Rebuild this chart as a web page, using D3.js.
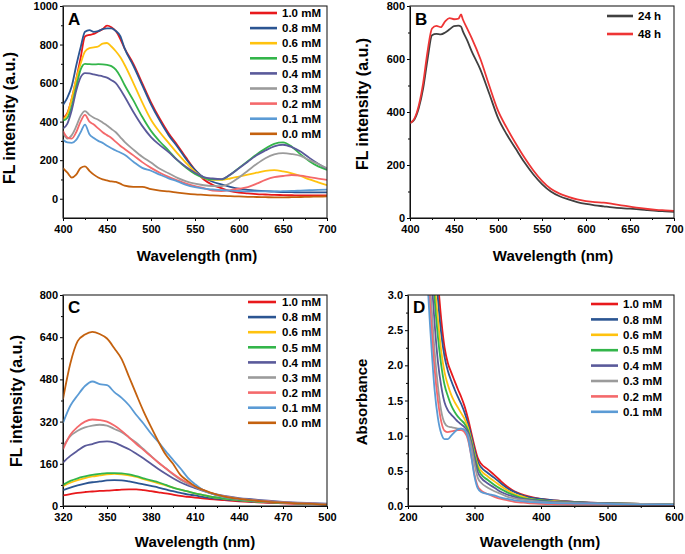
<!DOCTYPE html>
<html><head><meta charset="utf-8">
<script src="https://cdn.jsdelivr.net/npm/d3@7"></script>
<style>
body{margin:0;background:#fff}
svg{display:block}
text{font-family:"Liberation Sans",Arial,Helvetica,sans-serif;font-weight:bold;fill:#000}
</style>
</head><body>
<svg id="c" width="685" height="554"></svg>
<script>
// ---------- DATA ----------
const CONC_LABELS = ["1.0 mM","0.8 mM","0.6 mM","0.5 mM","0.4 mM","0.3 mM","0.2 mM","0.1 mM","0.0 mM"];
const TIME_LABELS = ["24 h","48 h"];

// Panel A: FL spectra (400-700 nm)
const A_WL = [400,405,410,415,420,425,430,435,440,445,450,455,460,465,470,480,490,500,510,520,530,540,550,560,570,580,590,600,610,620,630,640,650,660,670,680,690,700];
const A_10 = [418,445,520,620,730,842,850,855,868,880,898,890,870,830,780,700,600,500,415,340,278,212,150,100,72,55,40,32,28,24,22,20,19,18,17,17,17,17];
const A_08 = [487,525,585,690,785,866,875,866,870,880,884,884,870,845,780,690,590,490,405,330,270,205,150,110,88,74,62,52,46,42,39,37,35,34,33,33,33,33];
const A_06 = [410,440,520,620,700,764,781,785,790,805,808,790,765,735,695,600,500,410,345,290,235,185,140,108,98,98,105,115,125,135,145,148,142,132,118,100,85,70];
const A_05 = [405,420,480,580,670,700,698,697,698,697,694,688,670,635,590,510,425,352,297,250,200,160,128,108,100,100,125,160,195,230,260,285,292,270,230,195,168,150];
const A_04 = [365,390,460,560,630,652,650,645,640,635,628,615,600,568,530,450,378,320,278,242,200,165,135,112,105,102,125,158,192,225,250,272,280,268,245,212,182,155];
const A_03 = [340,312,330,375,430,455,435,420,410,395,380,362,345,320,295,255,218,188,155,132,108,90,78,70,66,65,80,110,145,180,210,230,237,232,222,200,180,158];
const A_02 = [352,318,312,345,400,435,400,385,365,345,330,315,295,275,258,225,190,160,135,113,95,78,65,55,42,40,45,52,60,78,98,112,118,123,120,112,104,98];
const A_01 = [306,292,290,305,345,385,335,315,300,290,275,262,250,240,228,192,160,145,125,106,90,72,60,52,48,45,42,40,38,38,38,38,39,40,42,44,46,47];
const A_00 = [159,135,110,125,160,168,145,125,110,100,95,90,87,78,68,62,62,50,42,38,32,27,23,20,17,15,13,12,10,9,8,7,7,8,9,10,11,12];

// Panel B: FL spectra 24 h / 48 h
const B_WL = [400,405,410,415,420,425,430,435,440,445,450,455,458,460,465,470,480,490,500,510,520,530,540,550,560,570,580,590,600,610,620,630,640,650,660,670,680,690,700];
const B_24 = [358,372,415,490,600,690,695,693,700,712,724,726,722,705,670,630,560,470,378,315,262,210,165,128,100,82,70,60,53,48,44,40,37,35,33,30,27,25,23];
const B_48 = [358,375,425,510,630,715,725,720,742,754,750,752,768,750,715,680,600,500,405,340,282,228,180,140,110,92,80,70,64,60,58,53,48,43,38,34,31,29,27];

// Panel C: FL spectra (320-500 nm)
const C_WL = [320,325,330,335,340,345,350,355,360,365,370,375,380,385,390,395,400,405,410,415,420,430,440,450,460,470,480,490,500];
const C_10 = [40,45,50,53,55,57,58,60,62,63,63,60,56,52,48,43,38,35,32,29,26,22,18,15,12,10,8,7,5];
const C_08 = [60,70,78,85,90,93,97,98,97,93,88,82,76,70,63,56,50,44,40,35,31,25,20,17,14,12,10,8,6];
const C_06 = [75,88,98,106,112,116,120,122,120,116,110,102,94,86,78,70,62,55,48,42,36,28,22,18,15,12,10,8,6];
const C_05 = [80,95,105,112,118,122,125,125,124,120,113,105,97,90,80,70,62,55,48,42,36,28,22,18,15,12,10,8,6];
const C_04 = [165,190,210,228,235,243,245,240,228,215,198,180,160,140,122,105,90,78,68,58,50,38,30,25,20,16,13,11,9];
const C_03 = [225,265,285,298,305,308,305,292,280,260,240,215,190,165,143,120,100,85,72,60,50,36,28,22,17,14,11,9,7];
const C_02 = [215,270,300,320,328,326,320,305,285,260,235,212,188,165,143,122,103,88,75,62,50,36,27,21,17,14,11,9,7];
const C_01 = [315,380,420,455,472,462,458,432,410,382,345,312,275,243,208,175,143,108,83,62,50,34,26,20,16,13,10,8,6];
const C_00 = [405,540,625,650,660,652,635,598,557,490,423,358,300,245,195,160,118,95,75,62,52,36,27,21,16,13,10,8,5];

// Panel D: absorbance (200-600 nm)
const D_WL = [225,230,235,240,245,250,255,260,265,270,275,280,285,290,295,300,305,310,320,330,340,350,360,370,380,400,420,450,500,550,600];
const D_10 = [6,5,4.5,3.8,3.2,2.65,2.25,2.03,1.9,1.78,1.66,1.55,1.42,1.25,1.05,0.85,0.68,0.6,0.52,0.44,0.35,0.27,0.21,0.17,0.14,0.1,0.08,0.06,0.04,0.03,0.02];
const D_08 = [6,5,4.3,3.6,2.95,2.45,2.12,1.92,1.78,1.66,1.55,1.45,1.33,1.18,1.0,0.8,0.63,0.55,0.47,0.4,0.32,0.25,0.2,0.16,0.13,0.1,0.08,0.06,0.04,0.03,0.02];
const D_06 = [6,5,4.0,3.2,2.65,2.2,1.9,1.72,1.58,1.48,1.4,1.32,1.24,1.12,0.95,0.75,0.58,0.5,0.42,0.35,0.28,0.22,0.17,0.14,0.11,0.08,0.07,0.05,0.04,0.03,0.02];
const D_05 = [6,4.8,3.7,2.95,2.4,2.0,1.72,1.56,1.43,1.34,1.27,1.22,1.17,1.08,0.92,0.72,0.54,0.45,0.37,0.3,0.24,0.19,0.15,0.12,0.1,0.08,0.06,0.05,0.04,0.03,0.02];
const D_04 = [5.5,4.0,3.3,2.6,2.05,1.7,1.47,1.36,1.3,1.25,1.2,1.16,1.12,1.05,0.9,0.68,0.48,0.4,0.32,0.26,0.2,0.16,0.13,0.1,0.09,0.07,0.06,0.05,0.04,0.03,0.02];
const D_03 = [5,3.7,2.9,2.2,1.7,1.35,1.18,1.13,1.12,1.11,1.1,1.1,1.08,1.02,0.85,0.6,0.4,0.33,0.26,0.21,0.17,0.13,0.11,0.09,0.08,0.06,0.05,0.04,0.035,0.03,0.02];
const D_02 = [4.6,3.4,2.6,1.95,1.5,1.2,1.07,1.05,1.06,1.07,1.08,1.08,1.05,0.95,0.72,0.45,0.28,0.22,0.17,0.13,0.1,0.08,0.06,0.05,0.04,0.03,0.025,0.02,0.02,0.015,0.01];
const D_01 = [4.3,3.1,2.3,1.65,1.25,1.03,0.95,0.95,1.0,1.05,1.09,1.1,1.08,0.98,0.72,0.42,0.25,0.2,0.17,0.15,0.12,0.1,0.08,0.07,0.06,0.05,0.04,0.035,0.03,0.02,0.02];

// Tick values
const A_XTICKS = [400,450,500,550,600,650,700];
const A_YTICKS = [0,200,400,600,800,1000];
const B_XTICKS = [400,450,500,550,600,650,700];
const B_YTICKS = [0,200,400,600,800];
const C_XTICKS = [320,350,380,410,440,470,500];
const C_YTICKS = [0,160,320,480,640,800];
const D_XTICKS = [200,300,400,500,600];
const D_YTICKS = [0,0.5,1.0,1.5,2.0,2.5,3.0];

// ---------- STYLE ----------
const CONC_COLORS = ["#e8191c","#2b5592","#ffc20e","#33b54a","#5a5a9a","#9b9b9b","#f4696b","#5b9bd5","#c4610e"];
const TIME_COLORS = ["#404040","#ee3535"];

const svg = d3.select("#c");
const defs = svg.append("defs");

function mid(a){ const o=[]; for(let i=0;i<a.length-1;i++) o.push((a[i]+a[i+1])/2); return o; }

function panel(o){
  const x = d3.scaleLinear().domain(o.xd).range([o.l,o.r]);
  const y = d3.scaleLinear().domain(o.yd).range([o.b,o.t]);
  const g = svg.append("g");
  const cid = "clip_"+o.name;
  defs.append("clipPath").attr("id",cid).append("rect")
    .attr("x",o.l).attr("y",o.t).attr("width",o.r-o.l).attr("height",o.b-o.t);

  // minor ticks
  const xm = g.append("g").attr("transform",`translate(0,${o.b})`)
    .call(d3.axisBottom(x).tickValues(mid(o.xt)).tickSize(2).tickSizeOuter(0).tickFormat(""));
  xm.select(".domain").remove();
  const ym = g.append("g").attr("transform",`translate(${o.l},0)`)
    .call(d3.axisLeft(y).tickValues(o.ymin).tickSize(2).tickSizeOuter(0).tickFormat(""));
  ym.select(".domain").remove();

  // major axes
  const xa = g.append("g").attr("transform",`translate(0,${o.b})`)
    .call(d3.axisBottom(x).tickValues(o.xt).tickSize(3).tickPadding(4).tickSizeOuter(0).tickFormat(d3.format("d")));
  const ya = g.append("g").attr("transform",`translate(${o.l},0)`)
    .call(d3.axisLeft(y).tickValues(o.yt).tickSize(3).tickPadding(2).tickSizeOuter(0).tickFormat(o.yf));
  [xa,ya,xm,ym].forEach(a=>{
    a.selectAll("text").style("font-size","11px").style("font-weight","bold")
      .style("font-family",'"Liberation Sans",Arial,sans-serif').attr("fill","#000");
    a.selectAll("line").attr("stroke","#000");
    a.select(".domain").attr("stroke","#000");
  });

  // lines
  const lg = g.append("g").attr("clip-path",`url(#${cid})`);
  o.series.forEach((s,i)=>{
    const line = d3.line().x((d,j)=>x(o.wl[j])).y(d=>y(d)).curve(d3.curveMonotoneX);
    lg.append("path").datum(s).attr("d",line).attr("fill","none")
      .attr("stroke",o.colors[i]).attr("stroke-width",1.8).attr("stroke-linejoin","round");
  });

  // frame
  g.append("rect").attr("x",o.l).attr("y",o.t).attr("width",o.r-o.l).attr("height",o.b-o.t)
    .attr("fill","none").attr("stroke","#222").attr("stroke-width",1.1);

  // legend
  o.labels.forEach((lab,i)=>{
    const yy = o.leg.y + i*o.leg.dy;
    g.append("line").attr("x1",o.leg.x1).attr("x2",o.leg.x2).attr("y1",yy).attr("y2",yy)
      .attr("stroke",o.colors[i]).attr("stroke-width",2.6);
    g.append("text").attr("x",o.leg.tx).attr("y",yy+4.2).style("font-size","11.5px").text(lab);
  });

  // panel letter
  g.append("text").attr("x",o.let.x).attr("y",o.let.y).style("font-size","17px").text(o.name);

  // axis titles
  g.append("text").attr("x",o.xtitle.x).attr("y",o.xtitle.y).attr("text-anchor","middle")
    .style("font-size","15px").text("Wavelength (nm)");
  g.append("text").attr("transform",`translate(${o.ytitle.x},${o.ytitle.y}) rotate(-90)`)
    .attr("text-anchor","middle").attr("dominant-baseline","central")
    .style("font-size",o.ytitle.fs+"px").text(o.ytitle.t);
}

panel({name:"A", l:63, r:327, t:6, b:218, xd:[400,700], yd:[-100,1000],
  xt:A_XTICKS, yt:A_YTICKS, ymin:[100,300,500,700,900], yf:d3.format("d"),
  wl:A_WL, series:[A_10,A_08,A_06,A_05,A_04,A_03,A_02,A_01,A_00], colors:CONC_COLORS, labels:CONC_LABELS,
  leg:{x1:250,x2:277,tx:282,y:13,dy:15.1}, let:{x:68,y:25},
  xtitle:{x:197,y:261}, ytitle:{x:9,y:118,fs:16,t:"FL intensity (a.u.)"}});

panel({name:"B", l:410, r:674, t:6, b:218, xd:[400,700], yd:[0,800],
  xt:B_XTICKS, yt:B_YTICKS, ymin:[100,300,500,700], yf:d3.format("d"),
  wl:B_WL, series:[B_24,B_48], colors:TIME_COLORS, labels:TIME_LABELS,
  leg:{x1:607,x2:633,tx:638,y:16,dy:18}, let:{x:415,y:25},
  xtitle:{x:553,y:261}, ytitle:{x:362,y:104,fs:16,t:"FL intensity (a.u.)"}});

panel({name:"C", l:63, r:327, t:295, b:506, xd:[320,500], yd:[0,800],
  xt:C_XTICKS, yt:C_YTICKS, ymin:[80,240,400,560,720], yf:d3.format("d"),
  wl:C_WL, series:[C_10,C_08,C_06,C_05,C_04,C_03,C_02,C_01,C_00], colors:CONC_COLORS, labels:CONC_LABELS,
  leg:{x1:248,x2:276,tx:282,y:302,dy:15.1}, let:{x:68,y:313},
  xtitle:{x:195,y:547}, ytitle:{x:16,y:401,fs:16,t:"FL intensity (a.u.)"}});

panel({name:"D", l:408, r:674, t:295, b:506, xd:[200,600], yd:[0,3],
  xt:D_XTICKS, yt:D_YTICKS, ymin:[0.25,0.75,1.25,1.75,2.25,2.75], yf:d3.format(".1f"),
  wl:D_WL, series:[D_10,D_08,D_06,D_05,D_04,D_03,D_02,D_01], colors:CONC_COLORS.slice(0,8), labels:CONC_LABELS.slice(0,8),
  leg:{x1:591,x2:618,tx:623,y:304,dy:15.4}, let:{x:413,y:313},
  xtitle:{x:540,y:547}, ytitle:{x:361,y:402,fs:15,t:"Absorbance"}});
</script>
</body></html>
